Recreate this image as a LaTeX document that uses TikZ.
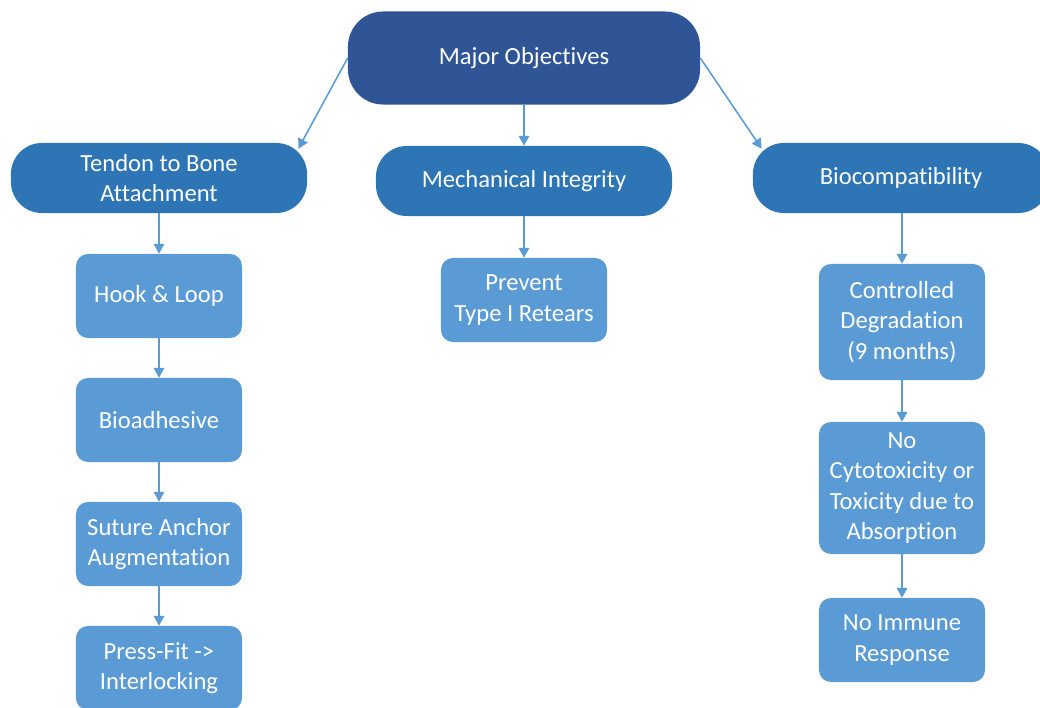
\documentclass[tikz,border=0pt]{standalone}
\usepackage{fontspec}
\setmainfont[Ligatures=CommonOff]{Carlito}
\usetikzlibrary{arrows.meta, positioning, calc}
\definecolor{objblue}{HTML}{2F5597}
\definecolor{aimblue}{HTML}{2E75B6}
\definecolor{subblue}{HTML}{5B9BD5}

\begin{document}
\begin{tikzpicture}[x=0.025cm, y=-0.025cm, font=\fontsize{17.5}{21.5}\selectfont,
  objbox/.style={fill=objblue, text=white, rounded corners=25pt, minimum width=8.8cm, minimum height=2.325cm, align=center},
  aimbox/.style={fill=aimblue, text=white, rounded corners=22pt, minimum width=7.4cm, minimum height=1.75cm, align=center, inner sep=2pt},
  subbox/.style={fill=subblue, text=white, rounded corners=8.5pt, minimum width=4.15cm, minimum height=2.1cm, align=center, inner sep=2pt},
  link/.style={draw=subblue, line width=1.1pt, -{Triangle[length=7pt,width=7.5pt]}}]
\clip (0,0) rectangle (1040,708);

% top
\node[objbox] (major) at (524,58) {Major Objectives};

% three aims
\node[aimbox] (tendon) at (159,178) {Tendon to Bone\\Attachment};
\node[aimbox] (mech) at (524,181) {Mechanical Integrity};
\node[aimbox] (bio) at (901,178) {Biocompatibility};

% tendon to bone column
\node[subbox] (hook) at (159,296) {Hook \& Loop};
\node[subbox] (adhesive) at (159,420) {Bioadhesive};
\node[subbox] (suture) at (159,544) {Suture Anchor\\Augmentation};
\node[subbox] (press) at (159,668) {Press-Fit ->\\Interlocking};

% mechanical column
\node[subbox] (retear) at (524,300) {Prevent\\Type I Retears};

% biocompatibility column
\node[subbox, minimum height=2.9cm] (degrade) at (902,322) {Controlled\\Degradation\\(9 months)};
\node[subbox, minimum height=3.3cm] (toxic) at (902,488) {No\\Cytotoxicity or\\Toxicity due to\\Absorption};
\node[subbox] (immune) at (902,640) {No Immune\\Response};

% arrows
\draw[link] (major.west) -- ($(tendon.north east)+(-9,6)$);
\draw[link] (major) -- (mech);
\draw[link] (major.east) -- ($(bio.north west)+(9,6)$);
\draw[link] (tendon) -- (hook);
\draw[link] (hook) -- (adhesive);
\draw[link] (adhesive) -- (suture);
\draw[link] (suture) -- (press);
\draw[link] (mech) -- (retear);
\draw[link] (bio.south -| degrade) -- (degrade);
\draw[link] (degrade) -- (toxic);
\draw[link] (toxic) -- (immune);
\end{tikzpicture}
\end{document}
